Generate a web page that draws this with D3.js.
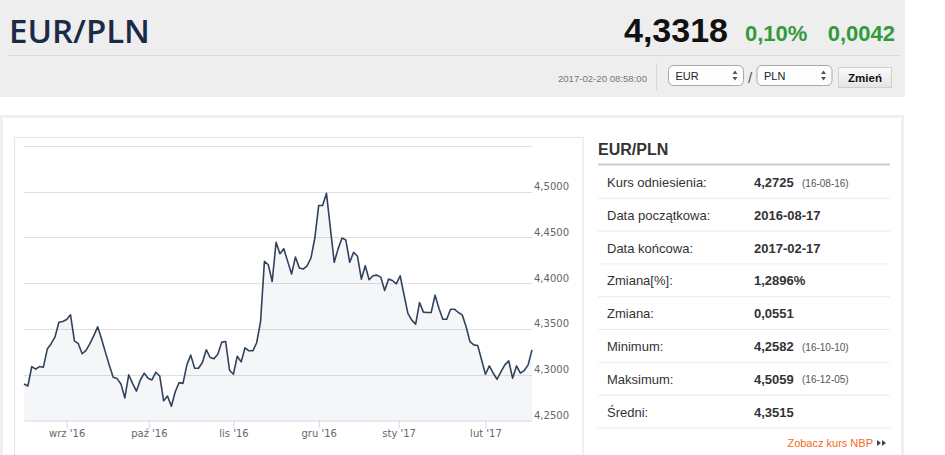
<!DOCTYPE html>
<html lang="pl">

<head>
    <meta charset="UTF-8">
    <title>EUR/PLN</title>
    <script src="https://d3js.org/d3.v7.min.js"></script>
    <style>
        body {
            margin: 0;
            background: #fff;
            overflow: hidden;
        }

        .axis-label {
            font-family: "DejaVu Sans", Verdana, sans-serif;
            font-size: 10px;
            fill: #666;
        }

        .info text {
            font-family: "Liberation Sans", Arial, sans-serif;
            font-size: 13px;
            fill: #333;
        }
    </style>
</head>

<body>
    <svg id="page"></svg>
</body>
<script>
    // daily EUR/PLN rates, 2016-08-17 .. 2017-02-17
    const rates = [
        4.2897, 4.2875, 4.3088, 4.3059, 4.3088, 4.3081, 4.3279, 4.3338, 4.3412, 4.3573,
        4.3581, 4.3603, 4.3654, 4.3368, 4.3338, 4.3228, 4.3265, 4.3338, 4.3426, 4.3522,
        4.3390, 4.3243, 4.3103, 4.2971, 4.2956, 4.2897, 4.2745, 4.2998, 4.2904, 4.2820,
        4.2941, 4.3015, 4.2960, 4.2941, 4.3026, 4.2985, 4.2713, 4.2765, 4.2654, 4.2812,
        4.2912, 4.2904, 4.3107, 4.3213, 4.3070, 4.3070, 4.3132, 4.3272, 4.3187, 4.3173,
        4.3224, 4.3355, 4.3362, 4.3048, 4.3004, 4.3201, 4.3139, 4.3293, 4.3260, 4.3260,
        4.3348, 4.3579, 4.4238, 4.4201, 4.4018, 4.4447, 4.4322, 4.4377, 4.4238, 4.4099,
        4.4286, 4.4165, 4.4154, 4.4190, 4.4275, 4.4494, 4.4850, 4.4850, 4.4982, 4.4604,
        4.4228, 4.4375, 4.4493, 4.4471, 4.4228, 4.4338, 4.4294, 4.4044, 4.4191, 4.4037,
        4.4081, 4.4088, 4.4066, 4.3919, 4.4044, 4.4029, 4.3993, 4.4081, 4.3871, 4.3669,
        4.3596, 4.3552, 4.3788, 4.3683, 4.3679, 4.3679, 4.3869, 4.3726, 4.3606, 4.3606,
        4.3715, 4.3715, 4.3679, 4.3653, 4.3526, 4.3361, 4.3325, 4.3318, 4.3161, 4.3004,
        4.3095, 4.3015, 4.2949, 4.3033, 4.3106, 4.3150, 4.2960, 4.3095, 4.3015, 4.3044,
        4.3106, 4.3270
    ];

    // month ticks, given as position in the series (ordinal axis)
    const tickPos = [11, 32.2, 54, 76, 96.6, 119];
    const tickLabels = ["wrz '16", "paź '16", "lis '16", "gru '16", "sty '17", "lut '17"];

    const pair = "EUR/PLN";
    const lastRate = "4,3318";
    const changePct = "0,10%";
    const changeAbs = "0,0042";
    const quoteTime = "2017-02-20 08:58:00";

    const infoLabels = ["Kurs odniesienia:", "Data początkowa:", "Data końcowa:", "Zmiana[%]:",
        "Zmiana:", "Minimum:", "Maksimum:", "Średni:"];
    const infoValues = ["4,2725", "2016-08-17", "2017-02-17", "1,2896%", "0,0551", "4,2582", "4,5059", "4,3515"];
    const infoDates = ["(16-08-16)", "", "", "", "", "(16-10-10)", "(16-12-05)", ""];

    const svg = d3.select("#page")
        .attr("width", 945)
        .attr("height", 455);

    const fmt = v => d3.format(".4f")(v).replace(".", ",");

    function createHeader() {
        const g = svg.append("g");

        g.append("rect")
            .attr("x", 0).attr("y", 0)
            .attr("width", 905).attr("height", 97)
            .attr("fill", "#eeeeee");

        g.append("line")
            .attr("x1", 9).attr("x2", 900)
            .attr("y1", 55.5).attr("y2", 55.5)
            .attr("stroke", "#d9d9d9");

        g.append("text")
            .attr("x", 9).attr("y", 43)
            .style("font-family", "'Open Sans', sans-serif")
            .style("font-weight", 600)
            .style("font-size", "33px")
            .attr("fill", "#1b2a47")
            .text(pair);

        g.append("text")
            .attr("x", 728).attr("y", 42)
            .attr("text-anchor", "end")
            .style("font-family", "'Liberation Sans', Arial, sans-serif")
            .style("font-weight", "bold")
            .style("font-size", "34px")
            .attr("fill", "#111")
            .text(lastRate);

        g.append("text")
            .attr("x", 745).attr("y", 41)
            .style("font-family", "'Liberation Sans', Arial, sans-serif")
            .style("font-weight", "bold")
            .style("font-size", "22px")
            .attr("fill", "#33993a")
            .text(changePct);

        g.append("text")
            .attr("x", 895).attr("y", 41)
            .attr("text-anchor", "end")
            .style("font-family", "'Liberation Sans', Arial, sans-serif")
            .style("font-weight", "bold")
            .style("font-size", "22px")
            .attr("fill", "#33993a")
            .text(changeAbs);

        // timestamp and currency pickers
        g.append("text")
            .attr("x", 647).attr("y", 82)
            .attr("text-anchor", "end")
            .style("font-family", "'Liberation Sans', Arial, sans-serif")
            .style("font-size", "9.6px")
            .attr("fill", "#777")
            .text(quoteTime);

        g.append("line")
            .attr("x1", 656.5).attr("x2", 656.5)
            .attr("y1", 63).attr("y2", 90)
            .attr("stroke", "#d6d6d6");

        const selects = [{ x: 668.5, label: "EUR" }, { x: 757, label: "PLN" }];
        selects.forEach(s => {
            g.append("rect")
                .attr("x", s.x).attr("y", 65.5)
                .attr("width", 75).attr("height", 20)
                .attr("rx", 5)
                .attr("fill", "#fdfdfd")
                .attr("stroke", "#a9a9a9");
            g.append("text")
                .attr("x", s.x + 7).attr("y", 80)
                .style("font-family", "'Liberation Sans', Arial, sans-serif")
                .style("font-size", "11px")
                .attr("fill", "#222")
                .text(s.label);
            const ax = s.x + 66.5;
            g.append("path")
                .attr("d", `M${ax - 2.5},74 L${ax},70.5 L${ax + 2.5},74 Z M${ax - 2.5},77 L${ax},80.5 L${ax + 2.5},77 Z`)
                .attr("fill", "#555");
        });

        g.append("text")
            .attr("x", 748).attr("y", 83)
            .style("font-family", "'Liberation Sans', Arial, sans-serif")
            .style("font-size", "15px")
            .attr("fill", "#555")
            .text("/");

        const grad = svg.append("defs").append("linearGradient")
            .attr("id", "btn").attr("x1", 0).attr("x2", 0).attr("y1", 0).attr("y2", 1);
        grad.append("stop").attr("offset", 0).attr("stop-color", "#fbfbfb");
        grad.append("stop").attr("offset", 1).attr("stop-color", "#e4e4e4");

        g.append("rect")
            .attr("x", 838.5).attr("y", 67.5)
            .attr("width", 53).attr("height", 20)
            .attr("fill", "url(#btn)")
            .attr("stroke", "#cfcfcf");
        g.append("text")
            .attr("x", 865).attr("y", 82)
            .attr("text-anchor", "middle")
            .style("font-family", "'Liberation Sans', Arial, sans-serif")
            .style("font-weight", "bold")
            .style("font-size", "11.5px")
            .attr("fill", "#111")
            .text("Zmień");
    }

    function createChart() {
        // card and chart frame
        svg.append("rect")
            .attr("x", 1.5).attr("y", 116.5)
            .attr("width", 901).attr("height", 400)
            .attr("fill", "#fff")
            .attr("stroke", "#efefef")
            .attr("stroke-width", 3);

        svg.append("rect")
            .attr("x", 14.5).attr("y", 137.5)
            .attr("width", 568.5).attr("height", 400)
            .attr("fill", "#fff")
            .attr("stroke", "#e6e6e6")
            .attr("stroke-width", 1.2);

        const x = d3.scaleLinear()
            .domain([0, rates.length - 1])
            .range([24, 532]);

        const y = d3.scaleLinear()
            .domain([4.25, 4.55])
            .range([420.3, 146]);

        const yTicks = y.ticks(6);

        // grid lines
        svg.append("g")
            .selectAll("line")
            .data(yTicks.filter(d => d > 4.25))
            .enter().append("line")
            .attr("x1", 24).attr("x2", 532)
            .attr("y1", d => Math.round(y(d)) + 0.5)
            .attr("y2", d => Math.round(y(d)) + 0.5)
            .attr("stroke", "#e0e0e0");

        // area + line
        const area = d3.area()
            .x((d, i) => x(i))
            .y0(y(4.25))
            .y1(d => y(d));

        const line = d3.line()
            .x((d, i) => x(i))
            .y(d => y(d));

        svg.append("path")
            .datum(rates)
            .attr("d", area)
            .attr("fill", "#34476a")
            .attr("fill-opacity", 0.05);

        svg.append("path")
            .datum(rates)
            .attr("d", line)
            .attr("fill", "none")
            .attr("stroke", "#31425c")
            .attr("stroke-width", 1.6)
            .attr("stroke-linejoin", "round");

        // x axis
        const xAxis = d3.axisBottom(x)
            .tickValues(tickPos)
            .tickFormat((d, i) => tickLabels[i])
            .tickSizeInner(8)
            .tickSizeOuter(0)
            .tickPadding(2);

        const gx = svg.append("g")
            .attr("transform", "translate(0," + (Math.round(y(4.25)) + 0.5) + ")")
            .call(xAxis);
        gx.select(".domain").attr("stroke", "#ccd6eb");
        gx.selectAll(".tick line").attr("stroke", "#ccd6eb");
        gx.selectAll(".tick text")
            .attr("class", "axis-label")
            .attr("dy", "0.71em")
            .attr("y", 9)
            .attr("font-family", null)
            .attr("font-size", null);

        // y labels on the right, sitting just above each grid line
        const yAxis = d3.axisRight(y)
            .tickValues(yTicks.filter(d => d < 4.549))
            .tickFormat(fmt)
            .tickSize(0)
            .tickPadding(2);

        const gy = svg.append("g")
            .attr("transform", "translate(532,0)")
            .call(yAxis);
        gy.select(".domain").remove();
        gy.selectAll(".tick text")
            .attr("class", "axis-label")
            .attr("dy", "-0.2em")
            .attr("font-family", null)
            .attr("font-size", null);
    }

    function createInfo() {
        const g = svg.append("g").attr("class", "info");

        g.append("text")
            .attr("x", 598).attr("y", 155)
            .style("font-weight", "bold")
            .style("font-size", "16px")
            .text(pair);

        g.append("line")
            .attr("x1", 598).attr("x2", 890)
            .attr("y1", 164.5).attr("y2", 164.5)
            .attr("stroke", "#cccccc")
            .attr("stroke-width", 2);

        const rowH = 32.8, top = 166;
        const rows = g.selectAll(".row")
            .data(infoLabels)
            .enter().append("g")
            .attr("class", "row")
            .attr("transform", (d, i) => "translate(0," + (top + i * rowH) + ")");

        rows.append("line")
            .attr("x1", 598).attr("x2", 890)
            .attr("y1", rowH - 0.5).attr("y2", rowH - 0.5)
            .attr("stroke", "#ebebeb");

        rows.append("text")
            .attr("x", 607).attr("y", 21)
            .attr("fill", "#3a3a3a")
            .text(d => d);

        rows.append("text")
            .attr("x", 754).attr("y", 21)
            .style("font-weight", "bold")
            .text((d, i) => infoValues[i]);

        rows.append("text")
            .attr("x", 802).attr("y", 20.5)
            .style("font-size", "10px")
            .style("fill", "#555")
            .text((d, i) => infoDates[i]);

        g.append("text")
            .attr("x", 873).attr("y", 447)
            .attr("text-anchor", "end")
            .style("font-size", "11px")
            .style("fill", "#f26a21")
            .text("Zobacz kurs NBP");

        g.append("path")
            .attr("d", "M877,440 L881,443 L877,446 Z M882,440 L886,443 L882,446 Z")
            .attr("fill", "#444");
    }

    createHeader();
    createChart();
    createInfo();
</script>

</html>
